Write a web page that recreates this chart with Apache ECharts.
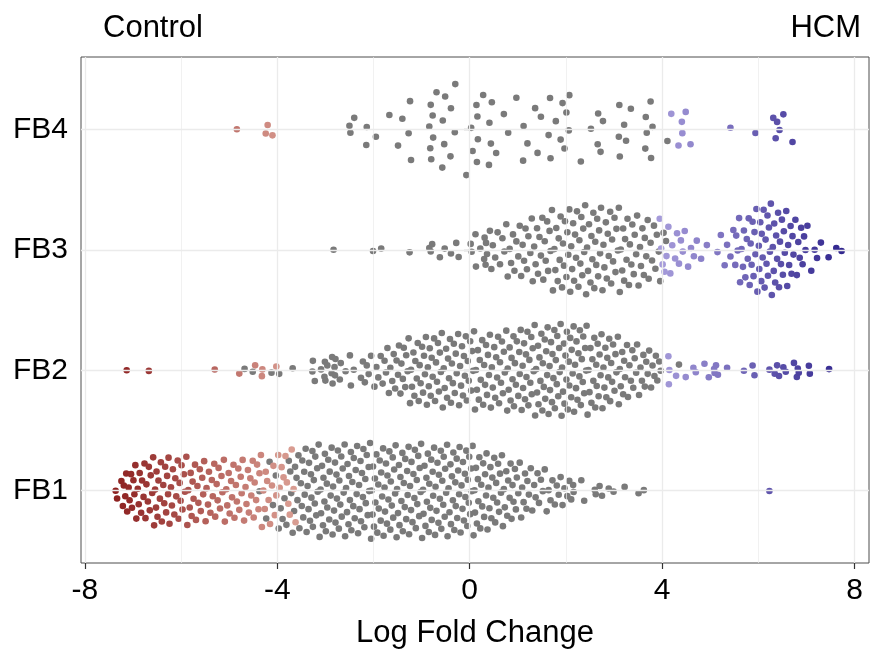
<!DOCTYPE html>
<html><head><meta charset="utf-8">
<script src="https://cdn.jsdelivr.net/npm/echarts@6/dist/echarts.min.js"></script>
<style>html,body{margin:0;padding:0;background:#fff}#c{width:880px;height:660px}</style>
</head><body><div id="c"></div><script>
// ---- data (log fold change per cell state) ----
const categories = ['FB1', 'FB2', 'FB3', 'FB4'];
const xTicks = [-8, -4, 0, 4, 8];
const xMinorTicks = [-6, -2, 2, 6];
const leftLabel = 'Control';
const rightLabel = 'HCM';
const xTitle = 'Log Fold Change';

// FB1
const fb1Red = [-7.36,-7.33,-7.24,-7.21,-7.19,-7.16,-7.14,-7.12,-7.09,-7.07,-7.04,-7.02,
-6.99,-6.97,-6.95,-6.93,-6.90,-6.88,-6.86,-6.83,-6.81,-6.78,-6.76,
-6.74,-6.72,-6.69,-6.67,-6.65,-6.63,-6.60,-6.58,-6.56,-6.54,-6.52,-6.51,
-6.49,-6.47,-6.44,-6.42,-6.40,-6.37,-6.35,-6.33,-6.31,-6.29,-6.27,-6.26,
-6.24,-6.21,-6.19,-6.17,-6.14,-6.12,-6.10,-6.07,-6.05,-6.03,-6.01,
-5.99,-5.97,-5.94,-5.92,-5.89,-5.87,-5.85,-5.82,-5.80,-5.78,-5.76,
-5.74,-5.71,-5.69,-5.66,-5.64,-5.61,-5.59,-5.56,-5.54,-5.52,
-5.49,-5.47,-5.44,-5.42,-5.39,-5.36,-5.34,-5.31,-5.29,-5.26,
-5.24,-5.22,-5.19,-5.16,-5.14,-5.11,-5.09,-5.06,-5.04,-5.01,
-4.99,-4.96,-4.94,-4.91,-4.89,-4.86,-4.84,-4.81,-4.79,-4.76,
-4.74,-4.72,-4.69,-4.66,-4.64,-4.61,-4.59,-4.56,-4.54,-4.51,
-4.49,-4.47,-4.44,-4.42,-4.39,-4.37,-4.34,-4.32,-4.29,-4.26,
-4.24,-4.21,-4.18,-4.15,-4.11,-4.08,-4.05,-4.02,
-3.98,-3.95,-3.91,-3.87,-3.83,-3.80,-3.77,
-3.74,-3.70,-3.66,-3.62];
const fb1Gray = [-4.37,-4.23,-4.16,-4.09,-4.03,
-3.97,-3.93,-3.89,-3.85,-3.81,-3.76,
-3.73,-3.71,-3.68,-3.65,-3.63,-3.60,-3.58,-3.56,-3.54,-3.51,
-3.49,-3.48,-3.46,-3.44,-3.43,-3.41,-3.39,-3.37,-3.35,-3.34,-3.32,-3.30,-3.29,-3.27,-3.26,
-3.24,-3.22,-3.21,-3.19,-3.17,-3.16,-3.14,-3.12,-3.10,-3.09,-3.07,-3.05,-3.04,-3.02,-3.01,
-2.99,-2.97,-2.96,-2.94,-2.92,-2.91,-2.89,-2.87,-2.85,-2.84,-2.82,-2.80,-2.79,-2.77,-2.76,
-2.74,-2.72,-2.71,-2.69,-2.67,-2.66,-2.64,-2.62,-2.60,-2.59,-2.57,-2.55,-2.54,-2.52,-2.51,
-2.49,-2.47,-2.46,-2.44,-2.42,-2.41,-2.39,-2.37,-2.35,-2.34,-2.32,-2.30,-2.29,-2.27,-2.26,
-2.24,-2.22,-2.21,-2.19,-2.17,-2.16,-2.14,-2.12,-2.10,-2.09,-2.07,-2.05,-2.04,-2.02,-2.01,
-1.99,-1.97,-1.96,-1.94,-1.92,-1.90,-1.89,-1.87,-1.85,-1.84,-1.82,-1.80,-1.79,-1.77,-1.76,
-1.74,-1.72,-1.71,-1.69,-1.67,-1.65,-1.64,-1.62,-1.60,-1.59,-1.57,-1.55,-1.54,-1.52,-1.51,
-1.49,-1.47,-1.46,-1.44,-1.42,-1.40,-1.39,-1.37,-1.35,-1.34,-1.32,-1.30,-1.29,-1.27,-1.26,
-1.24,-1.22,-1.21,-1.19,-1.17,-1.15,-1.14,-1.12,-1.10,-1.09,-1.07,-1.05,-1.04,-1.02,-1.01,
-0.99,-0.97,-0.96,-0.94,-0.92,-0.90,-0.89,-0.87,-0.85,-0.84,-0.82,-0.80,-0.79,-0.77,-0.76,
-0.74,-0.72,-0.71,-0.69,-0.67,-0.65,-0.64,-0.62,-0.60,-0.59,-0.57,-0.55,-0.54,-0.52,-0.51,
-0.49,-0.47,-0.46,-0.44,-0.42,-0.40,-0.39,-0.37,-0.35,-0.34,-0.32,-0.30,-0.29,-0.27,-0.26,
-0.24,-0.22,-0.21,-0.19,-0.17,-0.15,-0.14,-0.12,-0.10,-0.09,-0.07,-0.05,-0.04,-0.02,-0.01,
0.01,0.03,0.04,0.06,0.08,0.10,0.11,0.13,0.15,0.17,0.18,0.20,0.22,0.24,
0.26,0.28,0.30,0.32,0.34,0.35,0.37,0.39,0.41,0.43,0.45,0.47,0.49,
0.51,0.53,0.55,0.57,0.59,0.61,0.63,0.65,0.67,0.69,0.71,0.73,
0.76,0.78,0.80,0.83,0.85,0.87,0.89,0.91,0.94,0.96,0.98,
1.01,1.04,1.07,1.09,1.12,1.15,1.18,1.20,1.23,
1.27,1.30,1.34,1.37,1.41,1.44,1.48,
1.52,1.56,1.60,1.64,1.68,1.72,
1.77,1.81,1.85,1.89,1.93,1.97,
2.03,2.07,2.11,2.15,2.16,2.32,2.38,2.60,2.62,2.70,2.75,2.89,2.99,3.22,3.51,3.62];
const fb1Blue = [6.23];

// FB2
const fb2Red = [-7.13,-6.67,-5.30,-4.79,-4.46,-4.32,-4.31,-4.02];
const fb2Gray = [-4.68,-4.51,-4.12,-3.96,-3.68,-3.27,-3.26,-3.22,-3.09,-3.02,-3.01,-3.00,-2.96,
-2.87,-2.86,-2.85,-2.81,-2.80,-2.79,-2.70,-2.68,-2.58,-2.49,-2.47,-2.41,-2.26,-2.22,-2.18,-2.14,-2.10,-2.05,
-1.98,-1.94,-1.90,-1.85,-1.81,-1.77,
-1.74,-1.71,-1.68,-1.65,-1.61,-1.58,-1.55,-1.52,
-1.49,-1.47,-1.44,-1.42,-1.39,-1.37,-1.34,-1.32,-1.29,-1.27,
-1.24,-1.22,-1.20,-1.17,-1.15,-1.13,-1.10,-1.08,-1.06,-1.04,-1.02,
-0.99,-0.97,-0.95,-0.93,-0.91,-0.89,-0.87,-0.85,-0.83,-0.81,-0.79,-0.77,
-0.74,-0.72,-0.70,-0.68,-0.66,-0.64,-0.62,-0.60,-0.58,-0.56,-0.54,-0.52,
-0.49,-0.47,-0.45,-0.43,-0.41,-0.39,-0.37,-0.35,-0.33,-0.31,-0.29,-0.27,
-0.24,-0.22,-0.20,-0.18,-0.16,-0.14,-0.12,-0.10,-0.08,-0.06,-0.04,-0.02,
0.01,0.03,0.05,0.07,0.09,0.11,0.13,0.15,0.17,0.19,0.21,0.23,
0.26,0.28,0.30,0.32,0.34,0.36,0.38,0.40,0.42,0.44,0.46,0.48,
0.51,0.53,0.55,0.57,0.59,0.61,0.63,0.65,0.67,0.69,0.71,0.73,
0.76,0.78,0.79,0.81,0.83,0.85,0.87,0.89,0.91,0.92,0.94,0.96,0.98,
1.01,1.03,1.04,1.06,1.08,1.10,1.11,1.13,1.15,1.17,1.18,1.20,1.22,1.24,
1.26,1.28,1.29,1.31,1.33,1.35,1.36,1.38,1.40,1.42,1.43,1.45,1.47,1.49,
1.51,1.52,1.54,1.56,1.57,1.59,1.61,1.62,1.64,1.66,1.67,1.69,1.71,1.72,1.74,
1.76,1.77,1.79,1.81,1.82,1.84,1.86,1.87,1.89,1.91,1.92,1.94,1.96,1.97,1.99,
2.01,2.02,2.04,2.06,2.07,2.09,2.11,2.12,2.14,2.16,2.17,2.19,2.21,2.22,2.24,
2.26,2.28,2.29,2.31,2.33,2.35,2.36,2.38,2.40,2.42,2.43,2.45,2.47,2.49,
2.51,2.53,2.55,2.57,2.59,2.61,2.63,2.64,2.66,2.68,2.70,2.72,2.74,
2.76,2.78,2.80,2.82,2.84,2.86,2.88,2.90,2.92,2.94,2.96,2.98,
3.01,3.03,3.05,3.08,3.10,3.12,3.14,3.17,3.19,3.21,3.23,
3.27,3.29,3.32,3.35,3.38,3.40,3.43,3.46,3.48,
3.52,3.55,3.58,3.61,3.64,3.67,3.70,3.73,
3.77,3.80,3.84,3.87,3.90,3.94,3.97,4.35];
const fb2Blue = [4.13,4.14,4.15,4.29,4.49,4.65,4.70,4.88,4.97,5.08,5.09,5.12,5.16,5.35,5.70,
5.88,5.92,6.23,6.34,6.39,6.43,6.52,6.57,6.74,6.80,6.82,6.84,7.05,7.07,7.47];

// FB3
const fb3Red = [];
const fb3Gray = [-2.83,-2.01,-1.84,-1.25,-0.84,-0.81,-0.78,-0.62,-0.52,-0.39,-0.28,-0.23,
0.02,0.04,0.12,0.13,0.22,0.30,0.31,0.33,0.34,0.36,0.42,0.45,0.48,
0.53,0.58,0.63,0.68,0.72,
0.76,0.79,0.83,0.86,0.90,0.93,0.97,
1.01,1.04,1.07,1.10,1.13,1.16,1.19,1.22,
1.26,1.29,1.31,1.34,1.37,1.40,1.42,1.45,1.48,
1.51,1.53,1.56,1.58,1.61,1.63,1.66,1.68,1.71,1.73,
1.76,1.78,1.80,1.83,1.85,1.87,1.89,1.92,1.94,1.96,1.98,
2.01,2.03,2.05,2.07,2.09,2.11,2.13,2.15,2.17,2.19,2.21,2.23,
2.26,2.28,2.30,2.32,2.34,2.36,2.38,2.40,2.42,2.44,2.46,2.48,
2.51,2.53,2.55,2.57,2.59,2.61,2.63,2.65,2.67,2.69,2.71,2.73,
2.76,2.78,2.80,2.83,2.85,2.87,2.89,2.92,2.94,2.96,2.98,
3.01,3.03,3.05,3.08,3.10,3.12,3.14,3.17,3.19,3.21,3.23,
3.26,3.28,3.31,3.33,3.36,3.38,3.41,3.43,3.46,3.48,
3.51,3.54,3.56,3.59,3.62,3.64,3.67,3.70,3.72,
3.76,3.79,3.83,3.86,3.89,3.93,3.96,4.03,4.08];
const fb3Blue = [3.95,3.98,4.01,4.05,4.09,4.13,4.17,4.21,4.27,4.31,4.35,4.39,4.43,4.47,
4.54,4.60,4.66,4.72,4.81,4.93,5.15,5.22,5.30,5.35,5.42,5.48,
5.52,5.54,5.57,5.60,5.62,5.65,5.68,5.70,5.73,
5.76,5.78,5.80,5.82,5.84,5.86,5.88,5.90,5.92,5.94,5.96,5.98,
6.01,6.02,6.04,6.06,6.07,6.09,6.11,6.13,6.15,6.17,6.19,6.20,6.22,6.24,
6.26,6.28,6.30,6.32,6.33,6.35,6.37,6.39,6.41,6.43,6.45,6.47,6.49,
6.51,6.53,6.55,6.58,6.60,6.62,6.64,6.67,6.69,6.71,6.73,
6.77,6.80,6.83,6.86,6.89,6.92,6.95,6.98,
7.02,7.10,7.17,7.22,7.30,7.46,7.62,7.73];

// FB4
const fb4Red = [-4.84,-4.24,-4.20,-4.10];
const fb4Gray = [-2.50,-2.48,-2.40,-2.15,-2.14,-1.95,-1.67,-1.49,-1.40,-1.27,
-1.24,-1.22,-0.84,-0.82,-0.81,-0.80,-0.77,-0.76,-0.69,-0.57,
-0.56,-0.53,-0.51,-0.40,-0.39,-0.31,-0.30,-0.07,0.03,0.06,
0.14,0.15,0.16,0.17,0.28,0.40,0.41,0.44,0.46,0.55,
0.71,0.80,0.97,1.11,1.12,1.20,1.36,1.41,1.48,1.64,
1.67,1.68,1.79,1.89,1.93,1.97,2.01,2.06,2.07,2.31,
2.52,2.66,2.67,2.72,2.77,3.10,3.11,3.12,3.21,3.25,
3.35,3.65,3.66,3.68,3.76,3.77,3.80,4.11];
const fb4Blue = [4.19,4.34,4.41,4.42,4.49,4.59,5.42,5.94,6.31,6.36,6.39,6.44,6.52,6.71];

const groups = [
  {red: fb1Red, gray: fb1Gray, blue: fb1Blue},
  {red: fb2Red, gray: fb2Gray, blue: fb2Blue},
  {red: fb3Red, gray: fb3Gray, blue: fb3Blue},
  {red: fb4Red, gray: fb4Gray, blue: fb4Blue}
];

// ---- quasirandom (van der Corput) swarm layout, as in ggbeeswarm ----
function vdc(i){ let q=0, b=0.5; while(i>0){ q += (i%2)*b; i=Math.floor(i/2); b/=2; } return q; }
function bwNrd0(x){
  const n=x.length, s=[...x].sort((a,b)=>a-b);
  const m=x.reduce((a,b)=>a+b,0)/n;
  const sd=Math.sqrt(x.reduce((a,b)=>a+(b-m)*(b-m),0)/(n-1));
  const q=p=>{const h=(n-1)*p, lo=Math.floor(h); return s[lo]+(h-lo)*(s[Math.min(lo+1,n-1)]-s[lo]);};
  const iqr=q(0.75)-q(0.25);
  let lo=Math.min(sd, iqr/1.34); if(!(lo>0)) lo=sd||1;
  return 0.9*lo*Math.pow(n,-0.2);
}
function layoutGroup(items, center, width){
  const xs=items.map(d=>d.x), n=xs.length;
  const bw=0.5*bwNrd0(xs);
  const dens=v=>{let s=0; for(const xi of xs){const z=(v-xi)/bw; s+=Math.exp(-0.5*z*z);} return s;};
  const lo=Math.min(...xs)-3*bw, hi=Math.max(...xs)+3*bw;
  let mx=0; for(let i=0;i<512;i++){ mx=Math.max(mx, dens(lo+(hi-lo)*i/511)); }
  const order=xs.map((v,i)=>i).sort((a,b)=>(xs[a]-xs[b])||(a-b));
  order.forEach((idx,r)=>{ const d=dens(xs[idx])/mx; items[idx].y = center + (vdc(r+1)-0.5)*2*d*width; });
  return items;
}

const redPts=[], grayPts=[], bluePts=[];
groups.forEach((g,gi)=>{
  const items=[];
  g.red.forEach(x=>items.push({x, k:'r'}));
  g.gray.forEach(x=>items.push({x, k:'g'}));
  g.blue.forEach(x=>items.push({x, k:'b'}));
  layoutGroup(items, gi+1, 0.4).forEach(d=>{
    (d.k==='r'?redPts:d.k==='g'?grayPts:bluePts).push([d.x, d.y]);
  });
});

const FONT='"Liberation Sans", Arial, Helvetica, sans-serif';
const chart = echarts.init(document.getElementById('c'), null, {renderer:'canvas'});
const gridLines = [];
xTicks.forEach(v=>gridLines.push({xAxis:v, lineStyle:{width:1.3}}));
xMinorTicks.forEach(v=>gridLines.push({xAxis:v, lineStyle:{width:0.7}}));
[1,2,3,4].forEach(v=>gridLines.push({yAxis:v, lineStyle:{width:1.3}}));

chart.setOption({
  animation:false,
  backgroundColor:'#ffffff',
  textStyle:{fontFamily:FONT},
  title:[
    {text:leftLabel, left:103, top:13, padding:0, textStyle:{fontFamily:FONT, fontSize:31, fontWeight:'normal', color:'#000'}},
    {text:rightLabel, right:19, top:13, padding:0, textStyle:{fontFamily:FONT, fontSize:31, fontWeight:'normal', color:'#000'}}
  ],
  grid:{left:81, right:11, top:57, bottom:97, show:true, borderColor:'#4d4d4d', borderWidth:1, backgroundColor:'#fff'},
  xAxis:{type:'value', min:-8.08, max:8.3,
    name:xTitle, nameLocation:'middle', nameGap:55,
    nameTextStyle:{fontFamily:FONT, fontSize:31, color:'#000'},
    axisLine:{show:false},
    axisTick:{show:true, customValues:xTicks, length:6, lineStyle:{color:'#333', width:1.2}},
    axisLabel:{customValues:xTicks, fontFamily:FONT, fontSize:30, color:'#000', margin:13},
    splitLine:{show:false}},
  yAxis:{type:'value', min:0.4, max:4.6,
    axisLine:{show:false},
    axisTick:{show:true, customValues:[1,2,3,4], length:6, lineStyle:{color:'#333', width:1.2}},
    axisLabel:{customValues:[1,2,3,4], fontFamily:FONT, fontSize:30, color:'#000', margin:13,
      formatter:v=>categories[Math.round(v)-1]},
    splitLine:{show:false}},
  visualMap:{show:false, type:'continuous', dimension:0, seriesIndex:[2,3], min:-7.5, max:7.7,
    inRange:{color:['#8a1c1c','#d99c91','#bbbbbb','#a79ddb','#33288f']}},
  series:[
    {type:'scatter', data:[], z:1, silent:true,
      markLine:{silent:true, symbol:['none','none'], label:{show:false}, animation:false,
        lineStyle:{color:'#ebebeb', type:'solid'}, data:gridLines}},
    {type:'scatter', name:'ns', data:grayPts, symbolSize:6.6, z:2, itemStyle:{color:'#7a7a7a', opacity:1}},
    {type:'scatter', name:'down', data:redPts, symbolSize:6.6, z:3, itemStyle:{opacity:1}},
    {type:'scatter', name:'up', data:bluePts, symbolSize:6.6, z:3, itemStyle:{opacity:1}}
  ]
});
</script></body></html>
